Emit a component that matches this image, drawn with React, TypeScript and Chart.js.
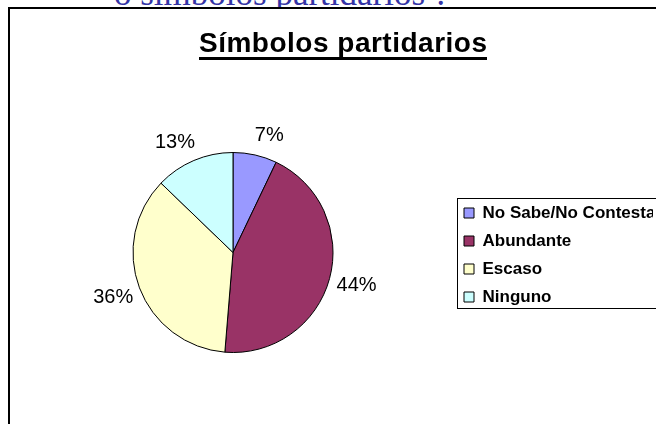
import React, { useEffect, useRef } from 'react';
import { Chart, registerables } from 'chart.js';

Chart.register(...registerables);

const categories = ['No Sabe/No Contesta', 'Abundante', 'Escaso', 'Ninguno'];
const values = [7.1, 44.2, 35.9, 12.8];
const colors = ['#9999FF', '#993366', '#FFFFCC', '#CCFFFF'];
const chartTitle = 'Símbolos partidarios';
const headerText = 'o símbolos partidarios ?';

const SANS = '"Liberation Sans", Arial, sans-serif';
const W = 700;
const H = 424;

const framePlugin = {
  id: 'frame',
  beforeDraw(chart: any) {
    const ctx = chart.ctx;
    ctx.save();
    ctx.fillStyle = '#ffffff';
    ctx.fillRect(9, 8, W, H);
    ctx.fillStyle = '#000000';
    ctx.fillRect(8, 7, W, 2);
    ctx.fillRect(8, 7, 2, H);
    ctx.restore();
  },
};

const decorPlugin = {
  id: 'decor',
  afterDatasetsDraw(chart: any) {
    const ctx = chart.ctx;
    const meta = chart.getDatasetMeta(0);
    const total = values.reduce((a, b) => a + b, 0);
    ctx.save();
    ctx.font = `20px ${SANS}`;
    ctx.fillStyle = '#000';
    ctx.textAlign = 'center';
    ctx.textBaseline = 'middle';
    meta.data.forEach((arc: any, i: number) => {
      const p = arc.getProps(['x', 'y', 'startAngle', 'endAngle', 'outerRadius'], true);
      const mid = (p.startAngle + p.endAngle) / 2;
      const ux = Math.cos(mid);
      const uy = Math.sin(mid);
      const d = p.outerRadius + 28;
      // push labels near the top outward horizontally, like the spreadsheet layout
      const px = p.x + ux * d + (Math.abs(uy) > 0.85 ? Math.sign(ux) * 8 : 0);
      const py = p.y + uy * d + (uy < -0.85 ? 8 : 0);
      ctx.fillText(`${Math.round((values[i] / total) * 100)}%`, px, py);
    });
    ctx.restore();
  },
  afterDraw(chart: any) {
    const ctx = chart.ctx;
    ctx.save();
    // title
    ctx.font = `bold 28px ${SANS}`;
    (ctx as any).letterSpacing = '0.5px';
    ctx.fillStyle = '#000';
    ctx.textAlign = 'left';
    ctx.textBaseline = 'alphabetic';
    const w = ctx.measureText(chartTitle).width - 0.5;
    const x0 = 343 - w / 2;
    ctx.fillText(chartTitle, x0, 52);
    ctx.fillRect(x0, 57, w, 3);
    (ctx as any).letterSpacing = '0px';
    // legend frame
    const hb = chart.legend && chart.legend.legendHitBoxes;
    if (hb && hb.length) {
      const first = hb[0];
      const last = hb[hb.length - 1];
      const left = Math.round(first.left - 7) + 0.5;
      const top = Math.round(first.top - 7) + 0.5;
      const bottom = Math.round(last.top + last.height + 2) + 0.5;
      ctx.strokeStyle = '#000';
      ctx.lineWidth = 1;
      ctx.strokeRect(left, top, W, bottom - top);
    }
    ctx.restore();
  },
};

export default function App() {
  const ref = useRef<HTMLCanvasElement | null>(null);
  useEffect(() => {
    if (!ref.current) return;
    const chart = new Chart(ref.current, {
      type: 'pie',
      data: {
        labels: categories,
        datasets: [
          {
            data: values,
            backgroundColor: colors,
            borderColor: '#000000',
            borderWidth: 1,
            radius: 100,
            hoverOffset: 0,
          } as any,
        ],
      },
      options: {
        responsive: false,
        animation: false,
        layout: { padding: { left: 13, right: 47, top: 90, bottom: 9 } },
        plugins: {
          tooltip: { enabled: false },
          title: { display: false },
          legend: {
            display: true,
            position: 'right',
            align: 'center',
            maxWidth: 200,
            title: { display: true, text: ' ', padding: 0, font: { size: 5, lineHeight: 1 } },
            labels: {
              boxWidth: 10,
              boxHeight: 10,
              padding: 11,
              color: '#000',
              font: { family: SANS, size: 17, weight: 'bold' },
            },
          } as any,
        },
      },
      plugins: [framePlugin, decorPlugin],
    });
    return () => chart.destroy();
  }, []);

  return (
    <div style={{ position: 'fixed', left: 0, top: 0, width: 656, height: 424, overflow: 'hidden', background: '#fff' }}>
      <div
        style={{
          position: 'absolute',
          left: 114,
          top: -24,
          fontFamily: '"Liberation Serif", "Times New Roman", serif',
          fontSize: 35,
          lineHeight: '35px',
          color: '#3434a6',
          whiteSpace: 'nowrap',
        }}
      >
        {headerText}
      </div>
      <canvas ref={ref} width={W} height={H} style={{ position: 'absolute', left: 0, top: 0, width: W, height: H }} />
    </div>
  );
}
